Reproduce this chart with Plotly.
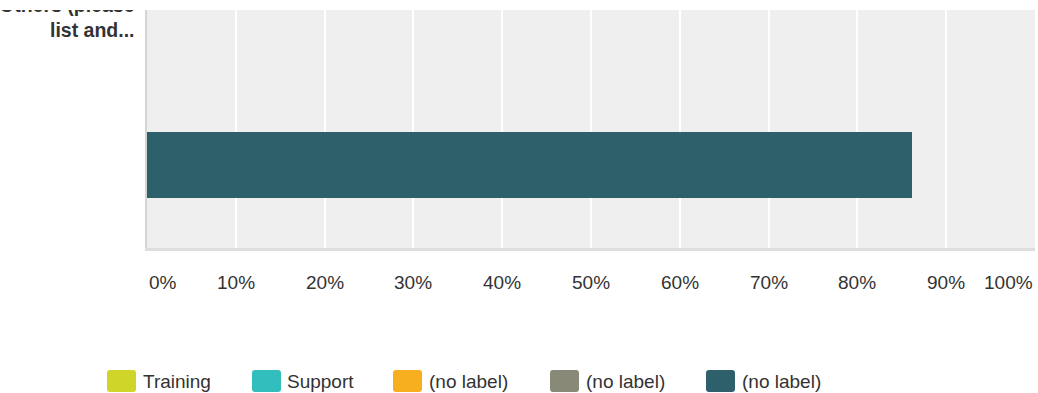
import plotly.graph_objects as go

# ---- data ----
row_positions = [0, 1]
row_labels = ["", "Others (please<br>list and..."]
series_names = ["Training", "Support", "(no label)", "(no label)", "(no label)"]
series_colors = ["#d0d52a", "#33bebe", "#f7ae1f", "#888a77", "#2e606c"]
series_values = [
    [0, 0],
    [0, 0],
    [0, 0],
    [0, 0],
    [86.2, 0],
]
x_ticks = [0, 10, 20, 30, 40, 50, 60, 70, 80, 90, 100]
x_tick_labels = [f"{t}%" for t in x_ticks]

# ---- page geometry ----
W, H = 1038, 393
ML, MR, MT, MB = 147, 3, 10, 145
PW, PH = W - ML - MR, H - MT - MB
FONT = "Liberation Sans, Arial, Helvetica, sans-serif"
TEXT = "#333333"
FS = 19


def px_x(px):
    return (px - ML) / PW


def px_y(py):
    return (H - MB - py) / PH


fig = go.Figure()
for name, color, vals in zip(series_names, series_colors, series_values):
    fig.add_trace(go.Bar(
        x=vals, y=row_positions, orientation="h", name=name,
        marker=dict(color=color, line=dict(width=0)),
        width=0.449, showlegend=False,
        hoverinfo="x+name",
    ))

annotations = []
# row labels, right-aligned against the plot's left edge
for pos, lab in zip(row_positions, row_labels):
    if lab:
        annotations.append(dict(
            x=0, xref="paper", xanchor="right", xshift=-10,
            y=pos, yref="y", yanchor="middle", align="right",
            text=f"<b>{lab}</b>", showarrow=False,
            font=dict(family=FONT, size=19.5, color=TEXT),
        ))

# the chart viewport begins at the plot top: mask the strip above it
annotations.append(dict(
    x=px_x(0), xref="paper", xanchor="left",
    y=1, yref="paper", yanchor="bottom",
    width=ML - 2, height=MT - 1, text=" ", showarrow=False,
    bgcolor="#ffffff", bordercolor="#ffffff", borderpad=0, borderwidth=1,
    opacity=1, font=dict(size=6, color="#ffffff"),
))

# x tick labels: first left-aligned, last right-aligned, others centred
for i, (t, lab) in enumerate(zip(x_ticks, x_tick_labels)):
    anchor = "left" if i == 0 else ("right" if i == len(x_ticks) - 1 else "center")
    annotations.append(dict(
        x=t, xref="x", y=0, yref="paper", yanchor="middle", xanchor=anchor,
        yshift=-34, text=lab, showarrow=False,
        font=dict(family=FONT, size=FS, color=TEXT),
    ))

# legend drawn as rounded swatches with labels
shapes = []
swatch_x = [107, 252, 393, 550, 706]
label_x = [141, 285, 427, 584, 740]
sw_w, sw_h, r = 29, 22, 3
sy0, sy1 = 370, 392
for sx, lx, name, color in zip(swatch_x, label_x, series_names, series_colors):
    x0, x1 = px_x(sx), px_x(sx + sw_w)
    rx, ry = r / PW, r / PH
    y_top, y_bot = px_y(sy0), px_y(sy1)
    path = (
        f"M {x0 + rx},{y_top} L {x1 - rx},{y_top} Q {x1},{y_top} {x1},{y_top - ry} "
        f"L {x1},{y_bot + ry} Q {x1},{y_bot} {x1 - rx},{y_bot} "
        f"L {x0 + rx},{y_bot} Q {x0},{y_bot} {x0},{y_bot + ry} "
        f"L {x0},{y_top - ry} Q {x0},{y_top} {x0 + rx},{y_top} Z"
    )
    shapes.append(dict(type="path", xref="paper", yref="paper", path=path,
                       fillcolor=color, line=dict(width=0), layer="above"))
    annotations.append(dict(
        x=px_x(lx), xref="paper", y=px_y((sy0 + sy1) / 2), yref="paper",
        xanchor="left", yanchor="middle", text=name, showarrow=False,
        font=dict(family=FONT, size=FS, color=TEXT),
    ))

fig.update_layout(
    width=W, height=H,
    margin=dict(l=ML, r=MR, t=MT, b=MB, pad=0, autoexpand=False),
    paper_bgcolor="white", plot_bgcolor="#efefef",
    barmode="stack", bargap=0,
    font=dict(family=FONT, color=TEXT),
    shapes=shapes, annotations=annotations,
    xaxis=dict(
        range=[0, 100], tickvals=x_ticks, showticklabels=False,
        showgrid=True, gridcolor="white", gridwidth=2, zeroline=False,
        showline=True, linecolor="#dedede", linewidth=3, ticks="",
        fixedrange=True, automargin=False,
    ),
    yaxis=dict(
        range=[-0.565, 1.054], tickvals=row_positions, showticklabels=False,
        showgrid=False, zeroline=False, ticks="", automargin=False,
        showline=True, linecolor="#d4d4d4", linewidth=2,
        fixedrange=True,
    ),
    showlegend=False,
)

fig.write_html("out.html")
